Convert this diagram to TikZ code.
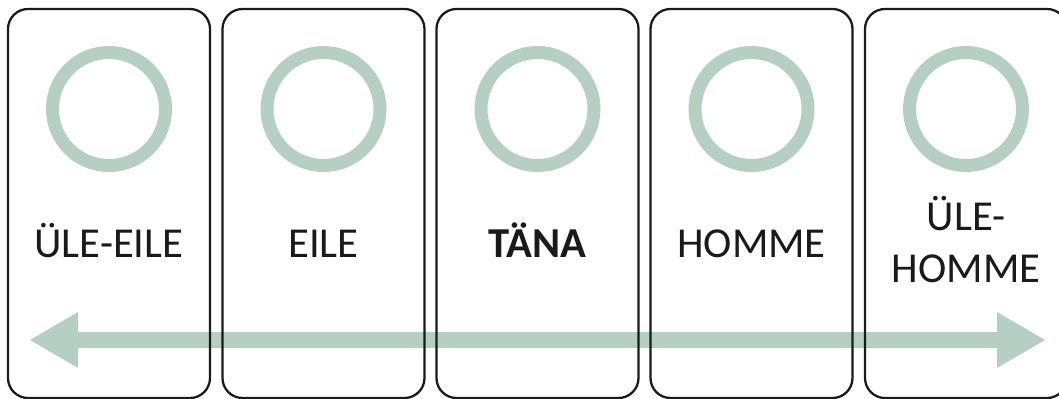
\documentclass[tikz,border=0pt]{standalone}
\usepackage{fontspec}
\setmainfont{Carlito}
\definecolor{sage}{RGB}{181,207,195}
\definecolor{ink}{RGB}{26,26,26}
\tikzset{
  panel/.style={draw=ink, line width=1.7pt, rounded corners=15pt, minimum width=151.5pt, minimum height=291.75pt, inner sep=0pt},
  ring/.style={draw=sage, line width=9.75pt, circle, minimum size=84.75pt, inner sep=0pt},
  label/.style={font=\fontsize{32}{39}\selectfont, text=ink, align=center, inner sep=0pt, anchor=base},
}
\begin{document}
\begin{tikzpicture}[x=0.75pt, y=-0.75pt]
\useasboundingbox (0,0) rectangle (1059,399);
% timeline arrow (drawn beneath the panels)
\coordinate (ltip) at (30,340);
\coordinate (rtip) at (1045,340);
\fill[sage] (ltip) -- (78,312) -- (78,332) -- (997,332) -- (997,312) -- (rtip)
  -- (997,368) -- (997,348) -- (78,348) -- (78,368) -- cycle;
% panels
\foreach \i/\cx in {1/109, 2/323.5, 3/537.5, 4/751.5, 5/966} {
  \node[panel] (p\i) at (\cx,203.5) {};
  \node[ring] (r\i) at (\cx,109) {};
}
\node[label] (t1) at (109,257) {ÜLE-EILE};
\node[label] (t2) at (323.5,257) {EILE};
\node[label, font=\fontsize{32}{39}\selectfont\bfseries] (t3) at (537.5,257) {TÄNA};
\node[label] (t4) at (751.5,257) {HOMME};
\node[label] (t5a) at (966,230) {ÜLE-};
\node[label] (t5b) at (966,282) {HOMME};
\end{tikzpicture}
\end{document}
